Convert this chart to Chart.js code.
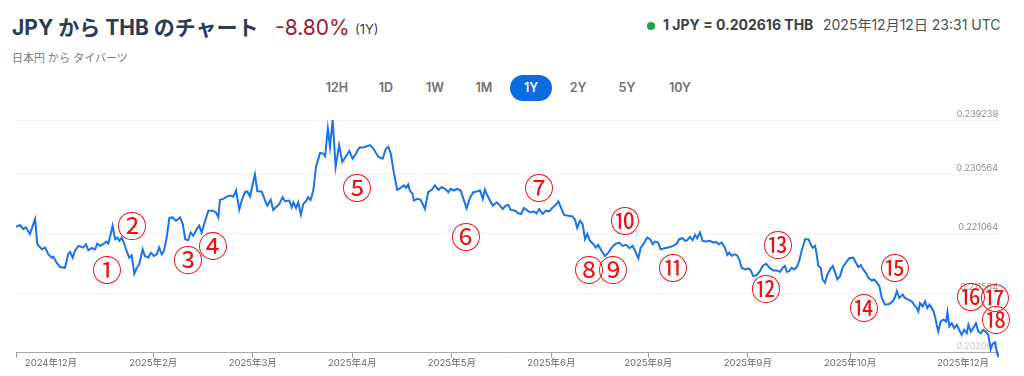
<!DOCTYPE html>
<html><head><meta charset="utf-8">
<script src="https://cdn.jsdelivr.net/npm/chart.js@4"></script>
<style>
html,body{margin:0;padding:0;background:#fff;width:1024px;height:376px;overflow:hidden;font-family:Inter,"Noto Sans CJK JP",sans-serif;}
.abs{position:absolute;white-space:nowrap;}
#title{left:12px;top:15px;font-size:21px;font-weight:700;color:#2a3b55;line-height:25px;}
#pct{left:275px;top:15px;font-size:21px;font-weight:400;color:#a3192b;line-height:25px;}
#per{left:355px;top:21px;font-size:13px;color:#3c4250;line-height:16px;}
#sub{left:12px;top:51px;font-size:11px;color:#777;line-height:14px;}
#dot{left:647px;top:22px;width:8px;height:8px;border-radius:50%;background:#1fa54a;}
#rate{left:663px;top:16px;font-size:14px;font-weight:700;color:#3a3f4a;line-height:18px;}
#time{left:823px;top:16px;font-size:14px;color:#4a4f58;line-height:18px;}
.btn{top:75px;height:26px;line-height:26px;font-size:12.5px;font-weight:600;color:#707070;text-align:center;width:42px;border-radius:13px;}
.btn.on{background:#0b6be0;color:#fff;}
#wrap{position:absolute;left:0;top:100px;width:1024px;height:276px;}
</style></head>
<body>
<div class="abs" id="title">JPY から THB のチャート</div>
<div class="abs" id="pct">-8.80%</div>
<div class="abs" id="per">(1Y)</div>
<div class="abs" id="sub">日本円 から タイバーツ</div>
<div class="abs" id="dot"></div>
<div class="abs" id="rate">1 JPY = 0.202616 THB</div>
<div class="abs" id="time">2025年12月12日 23:31 UTC</div>
<div id="btns"></div>
<div id="wrap"><canvas id="c"></canvas></div>
<script>
// ---- data ----
const rangeButtons = ['12H','1D','1W','1M','1Y','2Y','5Y','10Y'];
const activeRange = '1Y';
const days = [0,1.5,2.7,3.7,4.6,5.2,5.8,7.1,7.9,9.6,10.8,12.0,13.3,13.9,15.1,16.4,18.2,19.4,20.1,21.1,21.9,23.2,25.0,26.0,26.9,28.1,29.4,30.2,31.2,32.4,33.5,34.3,34.9,35.9,36.8,37.7,38.4,39.3,40.1,41.1,42.1,43.0,44.0,44.9,45.8,47.1,47.9,49.2,50.1,51.3,52.3,53.2,54.2,55.0,56.0,57.0,58.2,59.5,61.0,62.0,62.9,64.0,64.9,65.9,67.2,68.1,69.0,70.3,71.5,73.3,74.3,75.2,75.8,77.1,78.3,79.5,80.8,81.8,83.0,83.9,85.1,86.0,87.0,88.0,88.8,89.7,91.3,92.6,93.4,94.7,95.6,96.6,97.9,99.1,100.0,101.6,102.5,103.1,104.1,104.9,105.9,106.8,107.8,108.6,109.5,110.5,111.5,113.0,114.2,114.9,115.9,116.7,117.7,118.8,120.1,121.3,122.5,123.9,125.1,126.4,127.6,129.1,130.4,131.6,132.8,134.7,136.3,137.5,138.4,139.3,140.5,141.7,143.0,144.2,145.0,145.8,146.4,147.4,147.9,149.2,150.4,152.0,153.2,154.5,155.7,157.0,158.2,159.5,160.7,161.6,162.8,164.0,165.3,166.3,167.5,168.7,170.0,171.2,172.5,173.5,174.3,175.2,176.2,177.2,178.7,179.9,180.9,182.1,183.0,183.9,185.5,186.7,187.7,188.8,190.1,191.1,192.3,193.5,194.5,195.8,197.0,198.2,199.5,200.7,201.6,202.5,203.7,205.3,206.9,207.8,208.6,209.6,210.6,211.5,212.3,213.4,214.6,215.6,216.4,217.7,218.9,220.2,221.4,222.7,224.2,225.5,226.7,228.0,229.2,230.1,231.3,232.2,233.2,234.6,235.7,236.7,237.5,238.7,239.6,241.2,243.1,244.3,245.6,246.5,247.8,248.7,249.5,250.5,251.5,252.4,253.2,254.2,255.2,256.5,257.9,259.2,260.2,261.2,262.3,263.5,264.4,265.1,266.0,266.9,267.9,268.8,269.7,271.0,272.2,273.1,274.0,275.3,276.5,277.5,278.8,280.3,281.5,282.7,284.0,285.0,285.8,286.5,287.4,288.3,289.2,290.2,291.1,292.0,293.3,294.5,295.4,296.1,297.0,297.6,298.2,299.1,299.8,300.7,301.6,302.6,303.6,304.4,305.3,306.3,307.3,308.5,309.7,311.2,312.2,313.1,314.0,314.9,315.9,316.8,318.1,318.9,319.9,320.9,321.8,323.0,324.6,325.9,326.7,327.4,328.3,329.6,330.4,331.7,332.9,333.8,334.8,335.4,336.0,337.0,337.9,338.7,339.5,340.4,341.0,341.6,342.2,342.8,343.7,344.7,345.7,346.2,346.9,347.8,348.7,349.7,350.6,351.5,352.4,353.4,354.0,354.9,355.8,356.8,357.7,358.6,359.5,360.5,361.4,362.3,363.0,363.9,364.5,365.0];
const rates = [0.22217,0.22245,0.22180,0.22206,0.22142,0.22100,0.22180,0.22341,0.21939,0.21858,0.21884,0.21778,0.21723,0.21739,0.21643,0.21573,0.21562,0.21778,0.21815,0.21723,0.21831,0.21912,0.21884,0.21939,0.21842,0.21875,0.21858,0.21949,0.21912,0.21939,0.21981,0.21949,0.22045,0.22234,0.22019,0.22045,0.21992,0.22045,0.21965,0.21831,0.21723,0.21762,0.21466,0.21562,0.21617,0.21858,0.21751,0.21723,0.21804,0.21751,0.21778,0.21884,0.21778,0.21831,0.22045,0.22358,0.22367,0.22314,0.22367,0.22261,0.22019,0.22003,0.22126,0.22073,0.22180,0.22234,0.22126,0.22314,0.22475,0.22475,0.22448,0.22367,0.22647,0.22663,0.22700,0.22717,0.22700,0.22797,0.22491,0.22636,0.22770,0.22781,0.22700,0.22905,0.23055,0.22786,0.22781,0.22636,0.22556,0.22647,0.22486,0.22528,0.22583,0.22689,0.22625,0.22636,0.22528,0.22609,0.22518,0.22609,0.22411,0.22583,0.22625,0.22689,0.22647,0.22797,0.23172,0.23398,0.23388,0.23344,0.23790,0.23494,0.23924,0.23172,0.23522,0.23253,0.23333,0.23430,0.23307,0.23388,0.23484,0.23484,0.23505,0.23522,0.23468,0.23333,0.23307,0.23468,0.23494,0.23388,0.23066,0.22808,0.22840,0.22878,0.22840,0.22894,0.22797,0.22744,0.22636,0.22663,0.22647,0.22502,0.22770,0.22808,0.22878,0.22808,0.22850,0.22824,0.22770,0.22824,0.22797,0.22824,0.22797,0.22663,0.22512,0.22679,0.22770,0.22781,0.22797,0.22663,0.22813,0.22717,0.22636,0.22556,0.22609,0.22556,0.22502,0.22556,0.22567,0.22486,0.22475,0.22432,0.22422,0.22518,0.22475,0.22448,0.22464,0.22432,0.22502,0.22422,0.22475,0.22464,0.22528,0.22572,0.22625,0.22528,0.22406,0.22395,0.22383,0.22325,0.22197,0.22314,0.22261,0.22019,0.22100,0.21992,0.21939,0.21884,0.21928,0.21831,0.21751,0.21804,0.21884,0.21939,0.21965,0.21912,0.21928,0.21875,0.21912,0.21831,0.21714,0.21884,0.21939,0.22043,0.22019,0.21939,0.21981,0.21965,0.21858,0.21875,0.21895,0.21912,0.21949,0.22019,0.22035,0.21992,0.22003,0.22056,0.22003,0.22089,0.22035,0.22126,0.21992,0.21981,0.21992,0.21965,0.21976,0.21939,0.21965,0.21884,0.21766,0.21804,0.21751,0.21778,0.21766,0.21697,0.21562,0.21536,0.21552,0.21520,0.21429,0.21445,0.21509,0.21590,0.21627,0.21552,0.21520,0.21520,0.21497,0.21562,0.21590,0.21497,0.21509,0.21562,0.21536,0.21573,0.21670,0.21831,0.22019,0.22019,0.21939,0.21884,0.21912,0.21778,0.21590,0.21562,0.21375,0.21321,0.21456,0.21536,0.21590,0.21497,0.21375,0.21429,0.21573,0.21643,0.21714,0.21723,0.21643,0.21573,0.21606,0.21536,0.21481,0.21401,0.21359,0.21375,0.21332,0.21268,0.21079,0.20973,0.20982,0.21026,0.21090,0.21187,0.21079,0.21133,0.21079,0.21053,0.21026,0.20973,0.20918,0.20865,0.20999,0.20946,0.21026,0.20918,0.20973,0.20918,0.20865,0.20785,0.20651,0.20543,0.20704,0.20731,0.20704,0.20854,0.20624,0.20677,0.20597,0.20651,0.20570,0.20490,0.20570,0.20516,0.20651,0.20543,0.20597,0.20677,0.20543,0.20516,0.20570,0.20543,0.20490,0.20265,0.20345,0.20371,0.20238,0.20141];
const yTicks = [0.202064, 0.211564, 0.221064, 0.230564, 0.239239];
const tickDays = [0, 13, 51, 88, 125, 162, 199, 235, 272, 310, 352, 365];
const tickLabels = ['', '2024年12月', '2025年2月', '2025年3月', '2025年4月', '2025年5月', '2025年6月', '2025年8月', '2025年9月', '2025年10月', '2025年12月', ''];
const noteLabels = ['①','②','③','④','⑤','⑥','⑦','⑧','⑨','⑩','⑪','⑫','⑬','⑭','⑮','⑯','⑰','⑱'];
const noteDays  = [33.8, 43.1, 63.9, 73.2, 126.7, 167.3, 194.4, 213.0, 221.9, 226.4, 244.2, 278.8, 283.2, 315.2, 326.7, 355.0, 363.9, 364.3];
const noteRates = [0.21525, 0.22234, 0.21686, 0.21912, 0.22829, 0.22056, 0.22829, 0.21525, 0.21525, 0.22314, 0.21557, 0.21219, 0.21928, 0.20913, 0.21557, 0.21090, 0.21074, 0.20720];

// ---- buttons ----
const btnCenters = [337, 386, 435, 484, 531, 578, 627, 680];
const btns = document.getElementById('btns');
rangeButtons.forEach((b, i) => {
  const d = document.createElement('div');
  d.className = 'abs btn' + (b === activeRange ? ' on' : '');
  d.style.left = (btnCenters[i] - 21) + 'px';
  d.textContent = b;
  btns.appendChild(d);
});

const points = days.map((d, i) => ({x: d, y: rates[i]}));

const notesPlugin = {
  id: 'notes',
  afterDraw(chart) {
    const ctx = chart.ctx, xs = chart.scales.x, ys = chart.scales.y;
    ctx.save();
    ctx.fillStyle = '#f01010';
    ctx.font = '30px "DejaVu Serif", "Noto Sans CJK JP"';
    ctx.textAlign = 'center';
    ctx.textBaseline = 'middle';
    noteLabels.forEach((t, i) => {
      ctx.fillText(t, xs.getPixelForValue(noteDays[i]), ys.getPixelForValue(noteRates[i]) + 3);
    });
    ctx.restore();
  }
};

new Chart(document.getElementById('c'), {
  type: 'line',
  data: { datasets: [{
    data: points,
    borderColor: '#1a73e8',
    borderWidth: 2,
    pointRadius: 0,
    tension: 0,
    clip: false
  }]},
  options: {
    responsive: true,
    maintainAspectRatio: false,
    animation: false,
    layout: { padding: { left: 16, right: 26, top: 20, bottom: 7 } },
    plugins: { legend: { display: false }, tooltip: { enabled: false } },
    scales: {
      x: {
        type: 'linear',
        min: 0, max: 365,
        afterBuildTicks: s => { s.ticks = tickDays.map(v => ({value: v})); },
        ticks: {
          autoSkip: false, maxRotation: 0, padding: 0,
          font: { size: 9.5, family: 'Inter, "Noto Sans CJK JP"' },
          color: '#666',
          callback: (v, i) => tickLabels[i]
        },
        grid: {
          drawOnChartArea: false, drawTicks: true, tickLength: 5,
          tickColor: c => (c.index === 1 || c.index === 10) ? 'rgba(0,0,0,0)' : '#9a9a9a'
        },
        border: { display: true, color: '#a8a8a8', width: 1 }
      },
      y: {
        position: 'right',
        min: yTicks[0], max: yTicks[yTicks.length - 1],
        afterBuildTicks: s => { s.ticks = yTicks.map(v => ({value: v})); },
        ticks: {
          mirror: true, padding: 0, labelOffset: -6,
          font: { size: 9, family: 'Inter' },
          color: c => c.index === 0 ? '#c4c4c4' : '#8c8c8c',
          callback: v => v.toFixed(6)
        },
        grid: { color: '#f1f1f1', drawTicks: false },
        border: { display: false }
      }
    }
  },
  plugins: [notesPlugin]
});
</script>
</body></html>
